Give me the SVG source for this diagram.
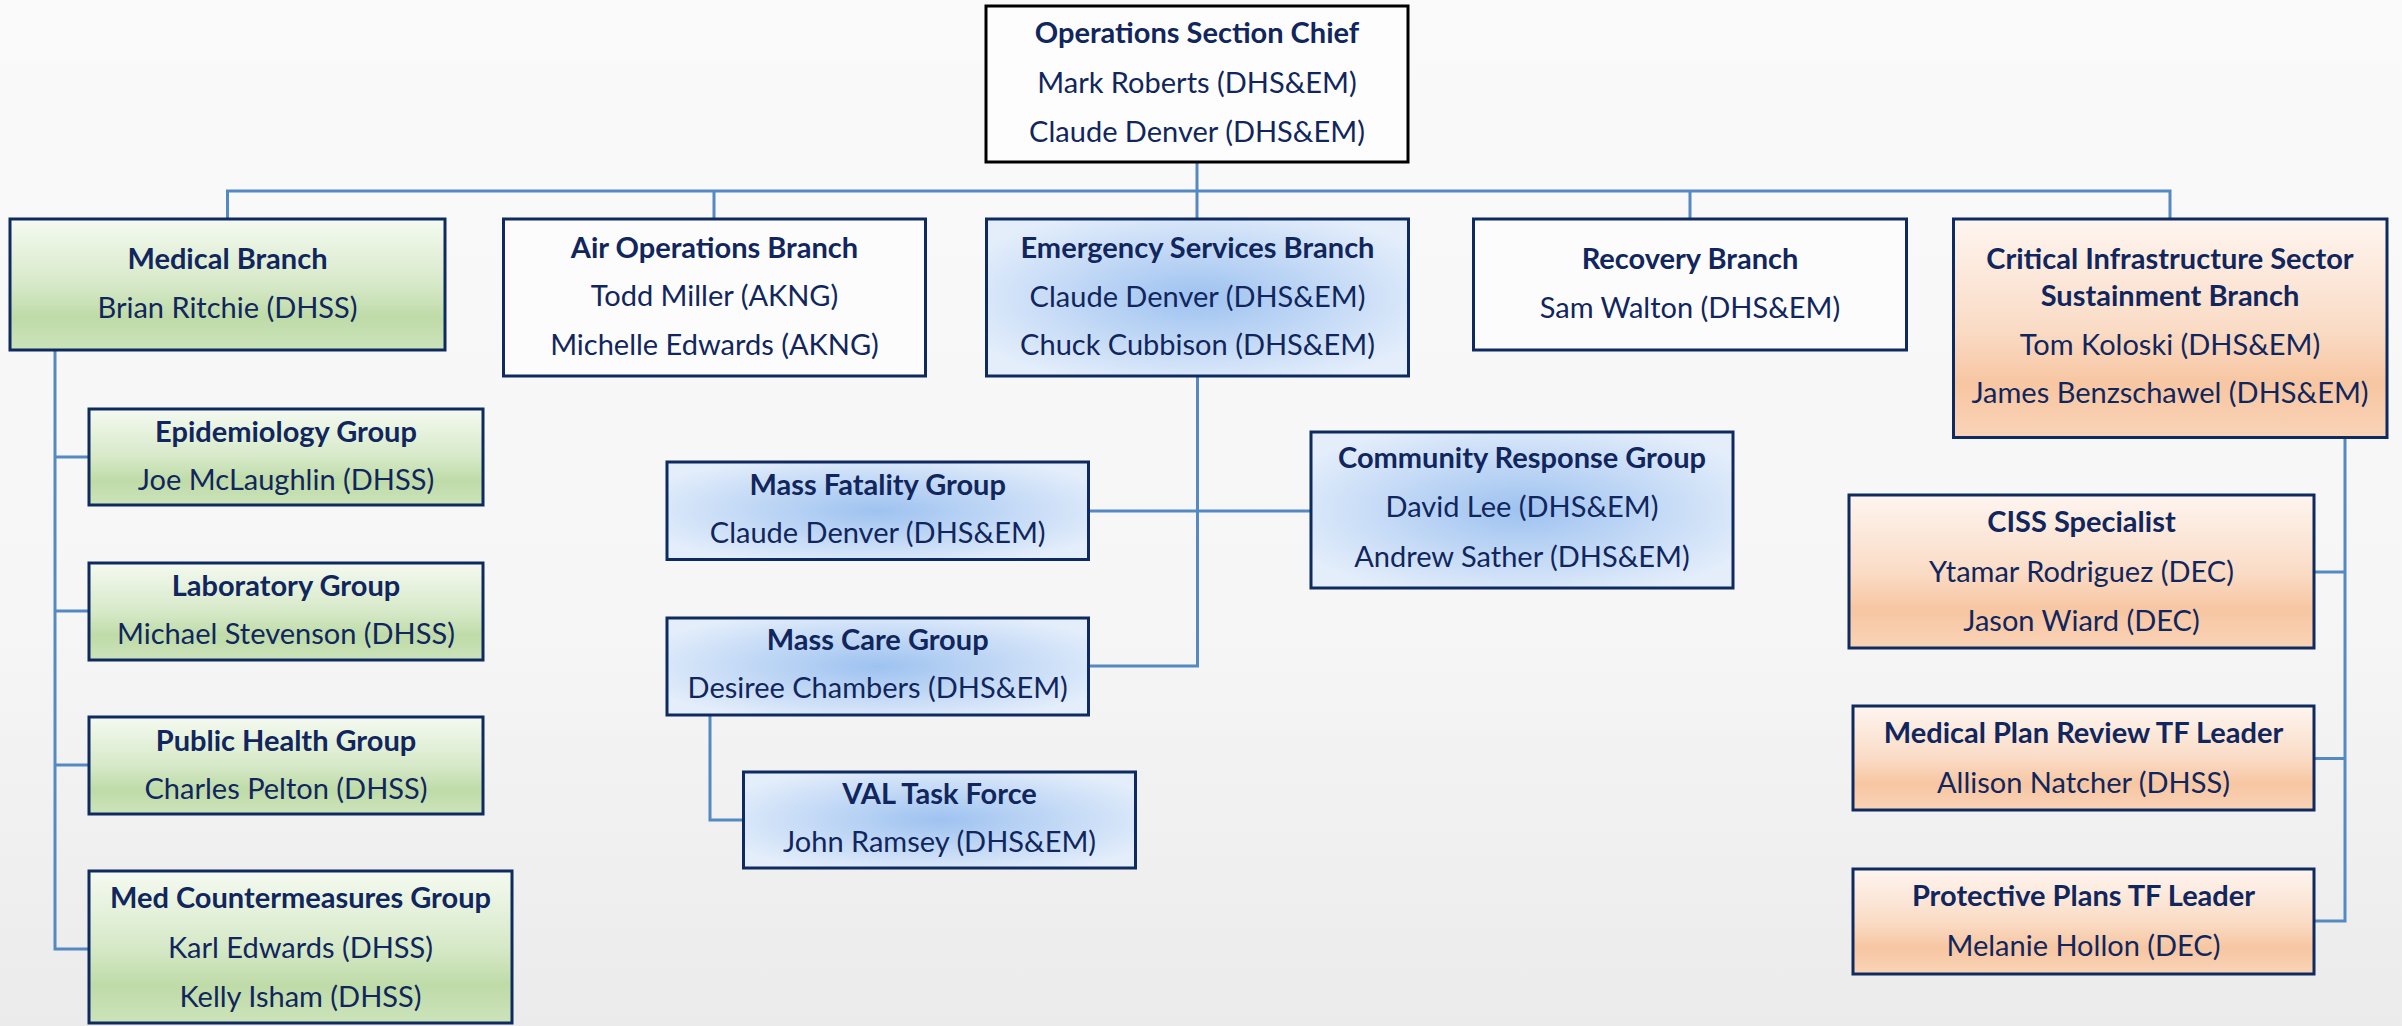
<svg xmlns="http://www.w3.org/2000/svg" width="2402" height="1026" viewBox="0 0 2402 1026">
<defs>
<linearGradient id="bg" x1="0" y1="0" x2="0" y2="1">
<stop offset="0" stop-color="#fafafa"/><stop offset="0.6" stop-color="#f6f6f6"/><stop offset="1" stop-color="#ebebeb"/>
</linearGradient>
<linearGradient id="green" x1="0" y1="0" x2="0" y2="1">
<stop offset="0" stop-color="#f5faf1"/><stop offset="0.5" stop-color="#d6e9c8"/><stop offset="0.75" stop-color="#bfdba8"/><stop offset="1" stop-color="#cce3bb"/>
</linearGradient>
<linearGradient id="orange" x1="0" y1="0" x2="0" y2="1">
<stop offset="0" stop-color="#fef5f0"/><stop offset="0.5" stop-color="#fadcc6"/><stop offset="0.75" stop-color="#f7c6a2"/><stop offset="1" stop-color="#f9d3b7"/>
</linearGradient>
<radialGradient id="blue" cx="0.5" cy="0.5" r="0.6">
<stop offset="0" stop-color="#9ec2f0"/><stop offset="1" stop-color="#e4eefb"/>
</radialGradient>
<style>
.box{stroke:#0f2a5f;stroke-width:3}
.chief{fill:#fdfdfd;stroke:#000;stroke-width:3}
.white{fill:#fcfcfc}
.g{fill:url(#green)}
.o{fill:url(#orange)}
.b{fill:url(#blue)}
text{font-family:Lato,"Liberation Sans",sans-serif;font-size:29px;fill:#10265c;text-anchor:middle}
.t{font-weight:bold}
.conn{fill:none;stroke:#5589c2;stroke-width:3}
</style>
</defs>
<rect x="0" y="0" width="2402" height="1026" fill="url(#bg)"/>
<g id="connectors" class="conn">
<path d="M1197 162 V191"/>
<path d="M227.5 219 V191 H2170 V219"/>
<path d="M714 191 V219"/>
<path d="M1197 191 V219"/>
<path d="M1690 191 V219"/>
<path d="M55 350 V949 H89"/>
<path d="M55 457 H89"/>
<path d="M55 611 H89"/>
<path d="M55 765 H89"/>
<path d="M1197.5 376 V666 H1088.5"/>
<path d="M1088.5 511 H1311"/>
<path d="M710 715 V820 H743.5"/>
<path d="M2345 437.5 V921 H2314"/>
<path d="M2314 572 H2345"/>
<path d="M2314 758.5 H2345"/>
</g>
<g id="chief">
<rect class="chief" x="986" y="6" width="422" height="156"/>
<text class="t" x="1197" y="43">Operations Section Chief</text>
<text x="1197" y="93">Mark Roberts (DHS&amp;EM)</text>
<text x="1197" y="142">Claude Denver (DHS&amp;EM)</text>
</g>
<g id="medical">
<rect class="box g" x="10" y="219" width="435" height="131"/>
<text class="t" x="227.5" y="269">Medical Branch</text>
<text x="227.5" y="318">Brian Ritchie (DHSS)</text>
</g>
<g id="airops">
<rect class="box white" x="503.5" y="219" width="422" height="157"/>
<text class="t" x="714.5" y="258">Air Operations Branch</text>
<text x="714.5" y="306">Todd Miller (AKNG)</text>
<text x="714.5" y="355">Michelle Edwards (AKNG)</text>
</g>
<g id="emergency">
<rect class="box b" x="986.5" y="219" width="422" height="157"/>
<text class="t" x="1197.5" y="258">Emergency Services Branch</text>
<text x="1197.5" y="307">Claude Denver (DHS&amp;EM)</text>
<text x="1197.5" y="355">Chuck Cubbison (DHS&amp;EM)</text>
</g>
<g id="recovery">
<rect class="box white" x="1473.5" y="219" width="433" height="131"/>
<text class="t" x="1690" y="269">Recovery Branch</text>
<text x="1690" y="318">Sam Walton (DHS&amp;EM)</text>
</g>
<g id="critical">
<rect class="box o" x="1953.5" y="219" width="433.5" height="218.5"/>
<text class="t" x="2170" y="269">Critical Infrastructure Sector</text>
<text class="t" x="2170" y="306">Sustainment Branch</text>
<text x="2170" y="355">Tom Koloski (DHS&amp;EM)</text>
<text x="2170" y="403">James Benzschawel (DHS&amp;EM)</text>
</g>
<g id="epidemiology">
<rect class="box g" x="89" y="409" width="394" height="96"/>
<text class="t" x="286" y="442">Epidemiology Group</text>
<text x="286" y="490">Joe McLaughlin (DHSS)</text>
</g>
<g id="laboratory">
<rect class="box g" x="89" y="563" width="394" height="97"/>
<text class="t" x="286" y="596">Laboratory Group</text>
<text x="286" y="644">Michael Stevenson (DHSS)</text>
</g>
<g id="publichealth">
<rect class="box g" x="89" y="717" width="394" height="97"/>
<text class="t" x="286" y="751">Public Health Group</text>
<text x="286" y="799">Charles Pelton (DHSS)</text>
</g>
<g id="medcounter">
<rect class="box g" x="89" y="871" width="423" height="152"/>
<text class="t" x="300.5" y="908">Med Countermeasures Group</text>
<text x="300.5" y="958">Karl Edwards (DHSS)</text>
<text x="300.5" y="1007">Kelly Isham (DHSS)</text>
</g>
<g id="massfatality">
<rect class="box b" x="667" y="462" width="421.5" height="97.5"/>
<text class="t" x="877.7" y="495">Mass Fatality Group</text>
<text x="877.7" y="543">Claude Denver (DHS&amp;EM)</text>
</g>
<g id="community">
<rect class="box b" x="1311" y="432" width="422" height="156"/>
<text class="t" x="1522" y="468">Community Response Group</text>
<text x="1522" y="517">David Lee (DHS&amp;EM)</text>
<text x="1522" y="567">Andrew Sather (DHS&amp;EM)</text>
</g>
<g id="masscare">
<rect class="box b" x="667" y="618" width="421.5" height="97"/>
<text class="t" x="877.7" y="650">Mass Care Group</text>
<text x="877.7" y="698">Desiree Chambers (DHS&amp;EM)</text>
</g>
<g id="val">
<rect class="box b" x="743.5" y="772" width="392" height="96"/>
<text class="t" x="939.6" y="804">VAL Task Force</text>
<text x="939.6" y="852">John Ramsey (DHS&amp;EM)</text>
</g>
<g id="ciss">
<rect class="box o" x="1849" y="495" width="465" height="153"/>
<text class="t" x="2081.5" y="532">CISS Specialist</text>
<text x="2081.5" y="582">Ytamar Rodriguez (DEC)</text>
<text x="2081.5" y="631">Jason Wiard (DEC)</text>
</g>
<g id="medplan">
<rect class="box o" x="1853" y="706" width="461" height="104"/>
<text class="t" x="2083.5" y="743">Medical Plan Review TF Leader</text>
<text x="2083.5" y="793">Allison Natcher (DHSS)</text>
</g>
<g id="protective">
<rect class="box o" x="1853" y="869" width="461" height="105"/>
<text class="t" x="2083.5" y="906">Protective Plans TF Leader</text>
<text x="2083.5" y="956">Melanie Hollon (DEC)</text>
</g>
</svg>
